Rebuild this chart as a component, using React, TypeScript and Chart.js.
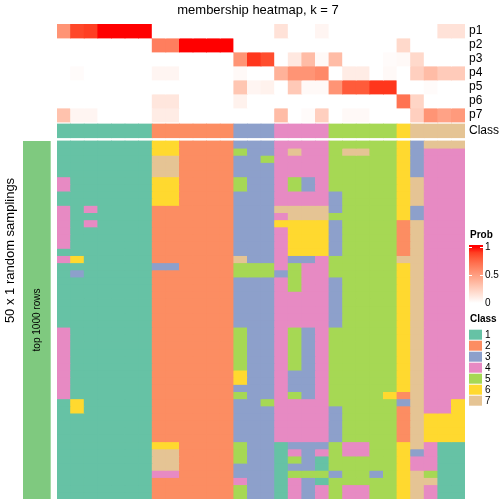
import React, { useEffect, useRef } from 'react';
import { Chart, registerables } from 'chart.js';

Chart.register(...registerables);

// ---------------- data ----------------
const TITLE = 'membership heatmap, k = 7';
const ROW_AXIS_TITLE = '50 x 1 random samplings';
const ROW_GROUP_LABEL = 'top 1000 rows';

const CLASS_LABELS = ['1', '2', '3', '4', '5', '6', '7'];
const CLASS_COLORS = ['#66C2A5', '#FC8D62', '#8DA0CB', '#E78AC3', '#A6D854', '#FFD92F', '#E5C494'];
const ROW_GROUP_COLOR = '#7FC97F';

// consensus class of each of the 30 columns (samples)
const COLUMN_CLASS = [1, 1, 1, 1, 1, 1, 1, 2, 2, 2, 2, 2, 2, 3, 3, 3, 4, 4, 4, 4, 5, 5, 5, 5, 5, 6, 7, 7, 7, 7];

// membership probabilities per class
const P1 = [0.55, 0.87, 0.9, 1, 1, 1, 1, 0, 0, 0, 0, 0, 0, 0, 0, 0, 0.15, 0, 0, 0.05, 0, 0, 0, 0, 0, 0, 0, 0, 0.15, 0.15];
const P2 = [0, 0, 0, 0, 0, 0, 0, 0.65, 0.65, 1, 1, 1, 1, 0, 0, 0, 0, 0, 0, 0, 0, 0, 0, 0, 0, 0.2, 0, 0, 0, 0];
const P3 = [0, 0, 0, 0, 0, 0, 0, 0, 0, 0, 0, 0, 0, 0.55, 0.92, 0.85, 0, 0.12, 0.35, 0.03, 0.35, 0, 0, 0, 0.02, 0.03, 0.2, 0, 0, 0];
const P4 = [0, 0.02, 0, 0, 0, 0, 0, 0.05, 0.05, 0, 0, 0, 0, 0.03, 0, 0, 0.4, 0.55, 0.55, 0.6, 0, 0.1, 0.1, 0, 0.03, 0, 0.25, 0.35, 0.27, 0.27];
const P5 = [0, 0, 0, 0, 0, 0, 0, 0, 0, 0, 0, 0, 0, 0.3, 0.05, 0.07, 0, 0.28, 0.03, 0.03, 0.55, 0.8, 0.8, 0.92, 0.92, 0, 0, 0.02, 0, 0];
const P6 = [0, 0, 0, 0, 0, 0, 0, 0.13, 0.13, 0, 0, 0, 0, 0.07, 0, 0, 0, 0, 0, 0, 0, 0, 0, 0, 0, 0.7, 0.22, 0, 0, 0];
const P7 = [0.32, 0.05, 0.05, 0, 0, 0, 0, 0.1, 0.1, 0, 0, 0, 0, 0, 0, 0, 0.35, 0, 0.02, 0.25, 0, 0.03, 0.03, 0, 0, 0, 0.25, 0.55, 0.48, 0.52];
const PROB_ROWS = [P1, P2, P3, P4, P5, P6, P7];
const PROB_LABELS = ['p1', 'p2', 'p3', 'p4', 'p5', 'p6', 'p7'];
const CLASS_ROW_LABEL = 'Class';
const PROB_LEGEND_TITLE = 'Prob';
const PROB_TICKS = [1, 0.5, 0];

// class predicted in each of 50 random samplings (rows) for each of 30 columns
const MEMBERSHIP = [
  '1111111 662222 333 4444 55555 6 3 777',
  '1111111 662222 533 4744 57755 6 3 444',
  '1111111 772222 335 4444 55555 6 3 444',
  '1111111 772222 333 4444 55555 6 3 444',
  '1111111 772222 333 4444 55555 6 3 444',
  '4111111 662222 533 4534 55555 6 7 444',
  '4111111 662222 533 4534 55555 6 7 444',
  '1111111 662222 333 4444 35555 6 7 444',
  '1111111 662222 333 4444 35555 6 7 444',
  '4141111 222222 333 7777 35555 6 3 444',
  '4111111 222222 333 4777 55555 6 3 444',
  '4141111 222222 333 6666 35555 2 7 444',
  '4111111 222222 333 4666 35555 2 7 444',
  '4111111 222222 333 4666 35555 2 7 444',
  '4111111 222222 333 4666 35555 2 7 444',
  '1111111 222222 333 4666 35555 2 7 444',
  '4611111 222222 733 4334 55555 7 7 444',
  '1111111 332222 555 4544 55555 6 7 444',
  '1311111 222222 555 3544 55555 6 7 444',
  '1111111 222222 333 4544 35555 6 7 444',
  '1111111 222222 333 4544 35555 6 7 444',
  '1111111 222222 333 4444 35555 6 7 444',
  '1111111 222222 333 4444 35555 6 7 444',
  '1111111 222222 333 4444 35555 6 7 444',
  '1111111 222222 333 4444 35555 6 7 444',
  '1111111 222222 333 4444 35555 6 7 444',
  '4111111 222222 533 4534 55555 6 7 444',
  '4111111 222222 533 4534 55555 6 7 444',
  '4111111 222222 533 4534 55555 6 7 444',
  '4111111 222222 533 4534 55555 6 7 444',
  '4111111 222222 533 4534 55555 6 7 444',
  '4111111 222222 533 4534 55555 6 7 444',
  '4111111 222222 633 4334 55555 6 7 444',
  '4111111 222222 633 4334 55555 6 7 444',
  '4111111 222222 333 4334 55555 6 7 444',
  '4111111 222222 533 4534 55556 2 7 444',
  '1611111 222222 335 4444 55555 3 7 446',
  '1611111 222222 333 4444 35555 2 7 446',
  '1111111 222222 333 4444 35555 2 7 666',
  '1111111 222222 333 4444 35555 2 7 666',
  '1111111 222222 333 4444 35555 2 7 666',
  '1111111 222222 333 4444 35555 2 7 666',
  '1111111 662222 533 1333 54455 6 7 411',
  '1111111 772222 533 1434 54455 6 3 411',
  '1111111 772222 533 1531 55555 6 4 411',
  '1111111 772222 333 1331 55555 6 4 411',
  '1111111 442222 333 1555 35535 6 7 511',
  '1111111 222222 433 1431 55555 6 7 711',
  '1111111 222222 533 1434 54455 6 7 411',
  '1111111 222222 533 1434 54455 6 7 411',
];

const COLUMN_IDS = COLUMN_CLASS.map((_, i) => `s${i + 1}`);

// ---------------- layout (y units: 1 = one sampling row) ----------------
const P_TOP = -16.34;
const ANNO_H = 1.955;
const CLASS_TOP = -2.37;
const CLASS_BOTTOM = -0.46;
const Y_MIN = P_TOP;
const Y_MAX = MEMBERSHIP.length;
const FONT = '"Liberation Sans", Arial, Helvetica, sans-serif';

// white -> red in LAB space (like colorRamp2)
function labToRgb(L: number, a: number, b: number): string {
  const fy = (L + 16) / 116;
  const fx = fy + a / 500;
  const fz = fy - b / 200;
  const finv = (t: number) => (t * t * t > 0.008856 ? t * t * t : (t - 16 / 116) / 7.787);
  const X = 0.95047 * finv(fx);
  const Y = 1.0 * finv(fy);
  const Z = 1.08883 * finv(fz);
  const lin = [
    3.2406 * X - 1.5372 * Y - 0.4986 * Z,
    -0.9689 * X + 1.8758 * Y + 0.0415 * Z,
    0.0557 * X - 0.204 * Y + 1.057 * Z,
  ];
  const out = lin.map((c) => {
    const v = c <= 0.0031308 ? 12.92 * c : 1.055 * Math.pow(Math.max(c, 0), 1 / 2.4) - 0.055;
    return Math.round(Math.min(1, Math.max(0, v)) * 255);
  });
  return `rgb(${out[0]},${out[1]},${out[2]})`;
}
const WHITE_LAB = [100, 0, 0];
const RED_LAB = [53.24, 80.09, 67.2];
function probColor(p: number): string {
  return labToRgb(
    WHITE_LAB[0] + (RED_LAB[0] - WHITE_LAB[0]) * p,
    WHITE_LAB[1] + (RED_LAB[1] - WHITE_LAB[1]) * p,
    WHITE_LAB[2] + (RED_LAB[2] - WHITE_LAB[2]) * p
  );
}

const ANNO_TICKS = [
  ...PROB_LABELS.map((l, k) => ({ value: P_TOP + (k + 0.5) * ANNO_H, label: l })),
  { value: (CLASS_TOP + CLASS_BOTTOM) / 2, label: CLASS_ROW_LABEL },
];

const extrasPlugin = {
  id: 'heatmapExtras',
  afterDraw(chart: any) {
    const { ctx, chartArea, scales } = chart;
    const y = scales.y;
    ctx.save();
    ctx.fillStyle = '#000';
    // title
    ctx.font = `13px ${FONT}`;
    ctx.textAlign = 'center';
    ctx.textBaseline = 'middle';
    ctx.fillText(TITLE, (chartArea.left + chartArea.right) / 2 - 3, 10);

    // row annotation bar
    const top = y.getPixelForValue(0);
    const bottom = y.getPixelForValue(Y_MAX);
    ctx.fillStyle = ROW_GROUP_COLOR;
    ctx.fillRect(23, top, 27.7, bottom - top);
    ctx.fillStyle = '#000';
    ctx.save();
    ctx.translate(37, (top + bottom) / 2);
    ctx.rotate(-Math.PI / 2);
    ctx.font = `10px ${FONT}`;
    ctx.fillText(ROW_GROUP_LABEL, 0, 0);
    ctx.restore();
    ctx.save();
    ctx.translate(10, 250.5);
    ctx.rotate(-Math.PI / 2);
    ctx.font = `13px ${FONT}`;
    ctx.fillText(ROW_AXIS_TITLE, 0, 0);
    ctx.restore();

    // Prob legend
    const lx = 469;
    ctx.textAlign = 'left';
    ctx.font = `bold 10px ${FONT}`;
    ctx.fillText(PROB_LEGEND_TITLE, 470, 235);
    const gTop = 247;
    const gBot = 303;
    const grad = ctx.createLinearGradient(0, gTop, 0, gBot);
    for (let i = 0; i <= 10; i++) {
      const p = 1 - i / 10;
      grad.addColorStop(i / 10, probColor(p));
    }
    ctx.fillStyle = grad;
    ctx.fillRect(lx, gTop - 2, 14, gBot - gTop + 4);
    ctx.font = `10px ${FONT}`;
    PROB_TICKS.forEach((t) => {
      const ty = gBot - (gBot - gTop) * t;
      ctx.fillStyle = '#000';
      ctx.fillText(String(t), 485, ty + 0.5);
      if (t > 0) {
        ctx.strokeStyle = '#fff';
        ctx.lineWidth = 1;
        ctx.beginPath();
        ctx.moveTo(lx, Math.round(ty) + 0.5);
        ctx.lineTo(lx + 3, Math.round(ty) + 0.5);
        ctx.moveTo(lx + 11, Math.round(ty) + 0.5);
        ctx.lineTo(lx + 14, Math.round(ty) + 0.5);
        ctx.stroke();
      }
    });

    // Class legend
    ctx.font = `bold 10px ${FONT}`;
    ctx.fillStyle = '#000';
    ctx.fillText(CLASS_ROW_LABEL, 470, 319);
    ctx.font = `10px ${FONT}`;
    CLASS_LABELS.forEach((lab, i) => {
      const by = 329.7 + 11 * i;
      ctx.fillStyle = CLASS_COLORS[i];
      ctx.fillRect(lx, by, 13, 10);
      ctx.fillStyle = '#000';
      ctx.fillText(lab, 485, by + 5.5);
    });
    ctx.restore();
  },
};

export default function App() {
  const canvasRef = useRef<HTMLCanvasElement | null>(null);

  useEffect(() => {
    if (!canvasRef.current) return;
    const barCommon = {
      grouped: false,
      barPercentage: 1,
      categoryPercentage: 1,
      borderWidth: 0,
      inflateAmount: 0.4,
    };
    const probSets = PROB_ROWS.map((vals, k) => ({
      ...barCommon,
      label: PROB_LABELS[k],
      data: vals.map(() => [P_TOP + k * ANNO_H, P_TOP + (k + 1) * ANNO_H]),
      backgroundColor: vals.map((v) => probColor(v)),
    }));
    const classSet = {
      ...barCommon,
      label: CLASS_ROW_LABEL,
      data: COLUMN_CLASS.map(() => [CLASS_TOP, CLASS_BOTTOM]),
      backgroundColor: COLUMN_CLASS.map((c) => CLASS_COLORS[c - 1]),
    };
    const mainSets = MEMBERSHIP.map((row, r) => {
      const cells = row.replace(/ /g, '').split('').map(Number);
      return {
        ...barCommon,
        label: `sampling ${r + 1}`,
        data: cells.map(() => [r, r + 1]),
        backgroundColor: cells.map((c) => CLASS_COLORS[c - 1]),
      };
    });

    const chart = new Chart(canvasRef.current, {
      type: 'bar',
      data: {
        labels: COLUMN_IDS,
        datasets: [...probSets, classSet, ...mainSets] as any,
      },
      options: {
        animation: false,
        responsive: false,
        maintainAspectRatio: false,
        layout: { padding: { left: 57, right: 0, top: 24, bottom: 5 } },
        scales: {
          x: { display: false, offset: true },
          y: { display: false, min: Y_MIN, max: Y_MAX, reverse: true },
          y2: {
            position: 'right',
            min: Y_MIN,
            max: Y_MAX,
            reverse: true,
            grid: { display: false, drawTicks: false },
            border: { display: false },
            afterBuildTicks: (scale: any) => {
              scale.ticks = ANNO_TICKS.map((t) => ({ value: t.value }));
            },
            afterFit: (scale: any) => {
              scale.width = 39;
              scale.paddingTop = 0;
              scale.paddingBottom = 0;
            },
            ticks: {
              padding: 4,
              autoSkip: false,
              color: '#000',
              font: { family: FONT, size: 12 },
              callback: (_v: any, i: number) => ANNO_TICKS[i]?.label ?? '',
            },
          },
        } as any,
        plugins: {
          legend: { display: false },
          tooltip: { enabled: false },
          title: { display: false },
        },
      },
      plugins: [extrasPlugin],
    });
    return () => chart.destroy();
  }, []);

  return (
    <canvas
      ref={canvasRef}
      width={504}
      height={504}
      style={{ position: 'fixed', left: 0, top: 0, width: 504, height: 504, background: '#fff' }}
    />
  );
}
